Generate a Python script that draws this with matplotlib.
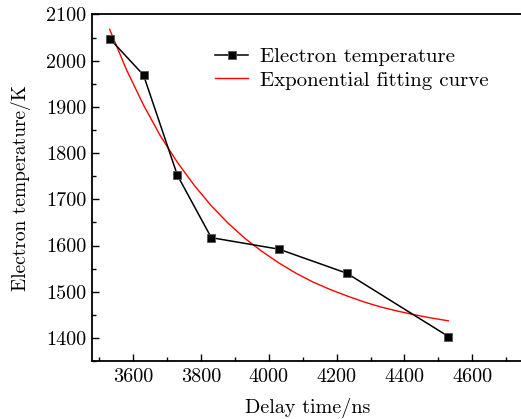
import matplotlib
matplotlib.use('Agg')
import matplotlib.pyplot as plt
from matplotlib.ticker import MultipleLocator

plt.rcParams['font.family'] = ['cmr10', 'DejaVu Serif']
plt.rcParams['axes.formatter.use_mathtext'] = False
plt.rcParams['mathtext.fontset'] = 'cm'

# measured electron temperature
delay = [3530, 3630, 3730, 3830, 4030, 4230, 4530]
temp = [2048, 1969, 1752, 1617, 1592, 1540, 1403]

# exponential fitting curve
fit_x = [3530, 3580, 3630, 3680, 3730, 3780, 3830, 3880, 3930, 3980, 4030,
         4080, 4130, 4180, 4230, 4280, 4330, 4380, 4430, 4480, 4530]
fit_y = [2068, 1980, 1904, 1837, 1780, 1730, 1686, 1648, 1615, 1587, 1562,
         1540, 1521, 1505, 1491, 1478, 1467, 1458, 1450, 1443, 1437]

fig = plt.figure(figsize=(5.21, 4.19), dpi=100)
ax = fig.add_axes([0.1766, 0.1384, 0.8292, 0.827])

ax.plot(delay, temp, color='black', lw=1.1, marker='s', markersize=6,
        markerfacecolor='black', markeredgecolor='#555555', markeredgewidth=0.6,
        label='Electron temperature', zorder=3)
ax.plot(fit_x, fit_y, color='red', lw=1.0, label='Exponential fitting curve', zorder=2)

ax.set_xlim(3478, 4753)
ax.set_ylim(1350, 2100)
ax.xaxis.set_major_locator(MultipleLocator(200))
ax.xaxis.set_minor_locator(MultipleLocator(100))
ax.yaxis.set_major_locator(MultipleLocator(100))
ax.yaxis.set_minor_locator(MultipleLocator(50))
ax.tick_params(which='both', direction='in', top=False, right=False, width=1.0,
               labelsize=14.5)
ax.tick_params(axis='x', pad=5)
ax.tick_params(axis='y', pad=4)
ax.tick_params(which='major', length=5)
ax.tick_params(which='minor', length=3)
for s in ax.spines.values():
    s.set_linewidth(1.3)

ax.set_xlabel('Delay time/ns', fontsize=14.5, labelpad=9)
ax.set_ylabel('Electron temperature/K', fontsize=14, labelpad=11)

ax.legend(loc='upper left', bbox_to_anchor=(0.2847, 0.905), frameon=False,
          fontsize=15, borderaxespad=0, borderpad=0, handlelength=1.6,
          handletextpad=0.58, labelspacing=0.25)

fig.savefig('out.png', dpi=100)
